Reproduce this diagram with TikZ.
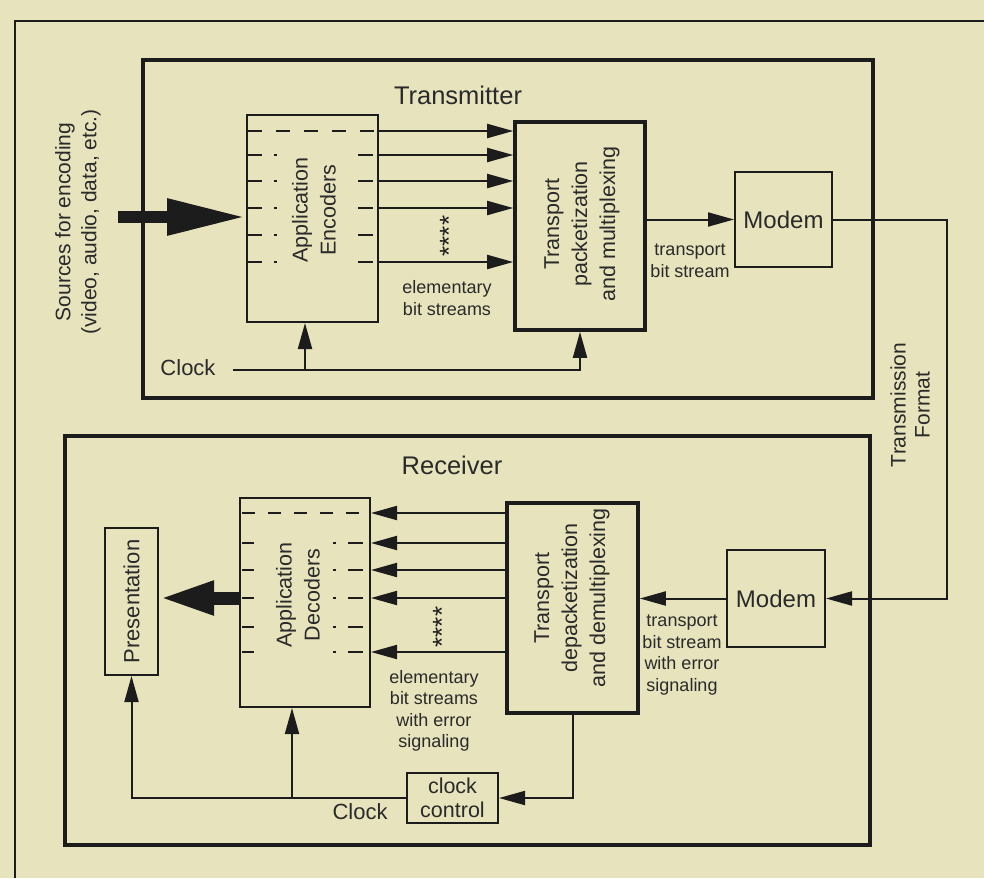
\documentclass[tikz,border=0pt]{standalone}
\usepackage{fontspec}
\setmainfont{Liberation Sans}
\usetikzlibrary{arrows.meta}

\definecolor{paper}{HTML}{E6E3BD}
\definecolor{ink}{HTML}{1C1C1C}
\definecolor{txt}{HTML}{2A2A2A}

\tikzset{
  heavy/.style={draw=ink, line width=3.6pt, inner sep=0pt},
  plain/.style={draw=ink, line width=2pt, inner sep=0pt},
  wire/.style={draw=ink, line width=2pt},
  flow/.style={wire, -{Triangle[length=26pt,width=14pt]}},
  bigflow/.style={draw=ink, line width=12pt, -{Triangle[length=79pt,width=34pt]}},
  outflow/.style={draw=ink, line width=13pt, -{Triangle[length=55pt,width=31pt]}},
  tick/.style={draw=ink, line width=1.8pt},
  title/.style={text=txt, font=\fontsize{25.5}{30}\selectfont},
  body/.style={text=txt, align=center, font=\fontsize{21.5}{28}\selectfont},
  small/.style={text=txt, align=center, font=\fontsize{18}{21.5}\selectfont},
  stars/.style={text=ink, rotate=90, font=\fontsize{26}{26}\selectfont},
  vert/.style={rotate=90},
}

\begin{document}
\begin{tikzpicture}[x=1pt,y=-1pt]
  % page
  \fill[paper] (0,0) rectangle (984,878);
  \useasboundingbox (0,0) rectangle (984,878);

  % outer frame (open to the right and bottom)
  \coordinate (ofTL) at (15,21);
  \draw[ink, line width=2.2pt] (ofTL |- 0,878) -- (ofTL) -- (984,21);

  % ---------------- Transmitter ----------------
  \node[heavy, minimum width=730pt, minimum height=338pt] (tx) at (508,229) {};
  \node[title] (txtitle) at (458,95) {Transmitter};

  \node[plain, minimum width=131pt, minimum height=207pt] (enc) at (312.5,218.5) {};
  \node[body, vert] (enclbl) at (314,210) {Application\\Encoders};

  \node[heavy, minimum width=130pt, minimum height=208pt] (tp) at (580,226) {};
  \node[body, vert] (tplbl) at (582,224) {Transport\\packetization\\and multiplexing};

  \node[plain, minimum width=97pt, minimum height=95pt, text=txt,
        font=\fontsize{24}{28}\selectfont] (txm) at (783.5,219.5) {Modem};

  % encoder channel marks
  \draw[tick, dash pattern=on 14pt off 14pt] (248,131) -- (376,131);
  \foreach \y in {155,181,208,235,262}{
    \draw[tick] (248,\y) -- (262,\y);
    \draw[tick] (274,\y) -- (277,\y);
    \draw[tick] (358,\y) -- (373,\y);
  }

  % elementary bit streams into the multiplexer
  \coordinate (t1) at (0,131);
  \coordinate (t2) at (0,155);
  \coordinate (t3) at (0,181);
  \coordinate (t4) at (0,208);
  \coordinate (t6) at (0,262);
  \foreach \r in {t1,t2,t3,t4,t6}
    \draw[flow] (enc.east |- \r) -- (tp.west |- \r);
  \node[stars] (astT) at (449,236) {****};
  \node[small] (esT) at (447,298) {elementary\\bit streams};

  % multiplexer to modem
  \draw[flow] (tp.east |- txm.west) -- (txm.west);
  \node[small] (tbsT) at (690,261) {transport\\bit stream};

  % sources
  \coordinate (src) at (118,217);
  \draw[bigflow] (src) -- (enc.west |- src);
  \node[text=txt, align=center, rotate=90, font=\fontsize{21}{26}\selectfont]
    (srclbl) at (78,222) {Sources for encoding\\(video, audio, data, etc.)};

  % transmitter clock
  \node[text=txt, font=\fontsize{22}{26}\selectfont] (clkTlbl) at (188,368) {Clock};
  \coordinate (clkT) at (233,370);
  \coordinate (brT) at (305,370);
  \draw[flow] (clkT) -| (tp.south);
  \draw[flow] (brT) -- (brT |- enc.south);

  % ---------------- Channel ----------------
  \node[plain, minimum width=98pt, minimum height=97pt, text=txt,
        font=\fontsize{24}{28}\selectfont] (rxm) at (776,598.5) {Modem};
  \coordinate (tfx) at (947,0);
  \draw[flow] (txm.east) -- (txm.east -| tfx) -- (tfx |- rxm.east) -- (rxm.east);
  \node[text=txt, align=center, rotate=90, font=\fontsize{21}{24}\selectfont]
    (tflbl) at (910,405) {Transmission\\Format};

  % ---------------- Receiver ----------------
  \node[heavy, minimum width=805pt, minimum height=409pt] (rx) at (467.5,640.5) {};
  \node[title] (rxtitle) at (452,465) {Receiver};

  \node[plain, minimum width=130pt, minimum height=209pt] (dec) at (305,602.5) {};
  \node[body, vert] (declbl) at (298,595) {Application\\Decoders};

  \node[heavy, minimum width=131pt, minimum height=210pt] (td) at (572.5,608) {};
  \node[body, vert] (tdlbl) at (572,598) {Transport\\depacketization\\and demultiplexing};

  \node[plain, minimum width=53pt, minimum height=147pt] (pres) at (131.5,601.5) {};
  \node[text=txt, rotate=90, font=\fontsize{22}{26}\selectfont] (preslbl) at (pres) {Presentation};

  \node[plain, minimum width=91pt, minimum height=50pt, text=txt, align=center,
        font=\fontsize{21.5}{24}\selectfont] (cc) at (452.5,798) {clock\\control};

  % decoder channel marks
  \draw[tick, dash pattern=on 13pt off 13pt] (242,513) -- (366,513);
  \foreach \y in {543,570,598,627,652}{
    \draw[tick] (242,\y) -- (254,\y);
    \draw[tick] (333,\y) -- (336,\y);
    \draw[tick] (348,\y) -- (363,\y);
  }

  % modem to demultiplexer
  \draw[flow] (rxm.west) -- (td.east |- rxm.west);
  \node[small] (tbsR) at (682,655) {transport\\bit stream\\with error\\signaling};

  % elementary bit streams out of the demultiplexer
  \coordinate (d1) at (0,513);
  \coordinate (d2) at (0,543);
  \coordinate (d3) at (0,570);
  \coordinate (d4) at (0,598);
  \coordinate (d6) at (0,652);
  \foreach \r in {d1,d2,d3,d4,d6}
    \draw[flow] (td.west |- \r) -- (dec.east |- \r);
  \node[stars] (astR) at (442,627) {****};
  \node[small] (esR) at (434,711) {elementary\\bit streams\\with error\\signaling};

  % decoders to presentation
  \draw[outflow] (dec.west |- d4) -- (pres.east |- d4);

  % receiver clock
  \draw[flow] (td.south) |- (cc.east);
  \draw[flow] (cc.west) -| (pres.south);
  \coordinate (brR) at (292,0);
  \draw[flow] (brR |- cc.west) -- (brR |- dec.south);
  \node[text=txt, font=\fontsize{22}{26}\selectfont] (clkRlbl) at (360,812) {Clock};
\end{tikzpicture}
\end{document}
